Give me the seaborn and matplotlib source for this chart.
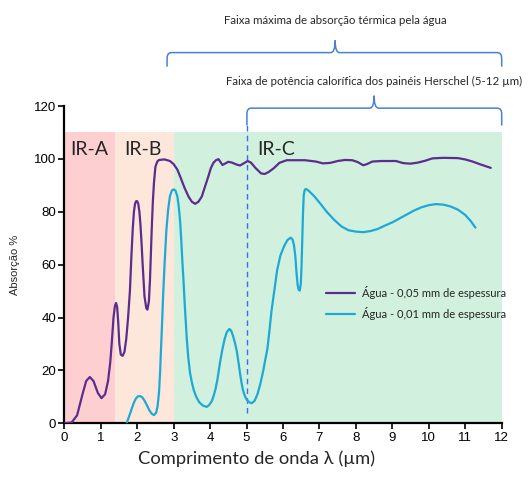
import numpy as np
import pandas as pd
import seaborn as sns
import matplotlib.pyplot as plt
from matplotlib.path import Path
from matplotlib.patches import PathPatch

# Absorção da água - espessura 0,05 mm
x_005 = [0.0, 0.2, 0.35, 0.5, 0.6, 0.7, 0.8, 0.92, 1.02, 1.12, 1.2, 1.26, 1.3, 1.35, 1.39,
         1.42, 1.45, 1.48, 1.51, 1.55, 1.6, 1.65, 1.7, 1.75, 1.8, 1.84, 1.88, 1.91, 1.94,
         1.97, 2.0, 2.03, 2.06, 2.09, 2.12, 2.15, 2.2, 2.25, 2.28, 2.32, 2.35, 2.37, 2.4,
         2.43, 2.46, 2.5, 2.55, 2.6, 2.75, 2.9, 3.0, 3.1, 3.18, 3.3, 3.41, 3.5, 3.59,
         3.68, 3.77, 3.86, 3.95, 4.02, 4.09, 4.16, 4.23, 4.3, 4.34, 4.42, 4.5, 4.6, 4.72,
         4.82, 4.92, 5.03, 5.12, 5.25, 5.4, 5.5, 5.6, 5.75, 5.9, 6.1, 6.3, 6.6, 6.9, 7.1,
         7.3, 7.5, 7.7, 7.9, 8.05, 8.2, 8.3, 8.45, 8.7, 9.1, 9.3, 9.5, 9.7, 9.9, 10.1,
         10.4, 10.8, 11.0, 11.2, 11.4, 11.7]
y_005 = [0, 0.3, 3, 11, 16, 17.5, 16, 11.5, 9.5, 11, 16, 23, 30, 40, 44.5,
         45.5, 44, 38, 30, 26, 25.5, 27, 32, 40, 50, 63, 74, 80, 83,
         84, 84, 83, 80, 75, 68, 60, 48, 43.5, 43, 46, 54, 62, 74,
         84, 91, 97, 99, 99.6, 99.8, 99.2, 98, 96, 93.3, 89, 85.7, 83.8, 83,
         83.8, 85.7, 89.5, 93.3, 96.5, 98.5, 99.5, 99.9, 98.5, 97.7, 98.3, 98.9, 98.6, 97.9,
         97.5, 98.3, 99.2, 98.6, 96.5, 94.5, 94.3, 95, 96.5, 98.5, 99.5, 99.5, 99.5, 99, 98.3,
         98.5, 99.2, 99.6, 99.5, 98.8, 97.6, 98, 99, 99.2, 99.2, 98.4, 98.2, 98.6, 99.3, 100.2,
         100.4, 100.3, 99.8, 99.0, 98, 96.6]

# Absorção da água - espessura 0,01 mm
x_001 = [1.71, 1.8, 1.9, 1.96, 2.02, 2.08, 2.14, 2.2, 2.26, 2.33, 2.4, 2.46, 2.52, 2.56,
         2.6, 2.63, 2.65, 2.68, 2.71, 2.75, 2.8, 2.85, 2.9, 2.95, 3.0, 3.05, 3.1, 3.14,
         3.18, 3.21, 3.24, 3.27, 3.3, 3.33, 3.36, 3.4, 3.45, 3.5, 3.55, 3.62, 3.7, 3.8,
         3.91, 3.98, 4.05, 4.1, 4.15, 4.2, 4.27, 4.33, 4.4, 4.46, 4.53, 4.58, 4.63, 4.68,
         4.73, 4.78, 4.82, 4.86, 4.9, 4.95, 5.0, 5.07, 5.14, 5.22, 5.3, 5.38, 5.46, 5.52,
         5.57, 5.62, 5.68, 5.75, 5.84, 5.93, 6.03, 6.12, 6.21, 6.26, 6.3, 6.34, 6.37, 6.4,
         6.43, 6.46, 6.49, 6.51, 6.53, 6.55, 6.57, 6.6, 6.64, 6.7, 6.85, 7.0, 7.2, 7.4,
         7.6, 7.8, 8.0, 8.2, 8.4, 8.6, 8.8, 9.0, 9.2, 9.4, 9.6, 9.8, 10.0, 10.2, 10.4,
         10.6, 10.8, 11.0, 11.15, 11.28]
y_001 = [0, 3.5, 7.5, 9.3, 10.2, 10.3, 9.8, 8.6, 7, 5, 3.6, 3.1, 4, 6.5,
         12, 20, 27, 37, 48, 60, 73, 81, 86, 88, 88.5, 88, 86, 82,
         76, 69, 61, 54, 46, 39, 32, 25, 19, 15.5, 12.6, 10, 8, 6.7,
         6.2, 7, 8.5, 10.5, 13, 16.5, 22.8, 27.5, 32, 34.5, 35.7, 35, 33, 30.5,
         27.5, 23, 19, 15.5, 12.6, 10.5, 9, 8, 7.6, 8.5, 11, 15, 20, 24.5,
         28, 34, 42, 49, 58, 63.5, 67, 69.3, 70.2, 69.6, 67.5, 63, 57, 52.5,
         50.5, 50.2, 53, 60, 70, 80, 86.5, 88.4, 88.6, 88, 86, 83.5, 80, 77,
         74.5, 73, 72.5, 72.3, 72.7, 73.5, 74.8, 76, 77.5, 79, 80.5, 81.7, 82.5, 82.9, 82.7,
         82, 80.8, 78.8, 76.5, 74]

series_names = ["Água - 0,05 mm de espessura", "Água - 0,01 mm de espessura"]
series_colors = ["#5b2d8e", "#1ca9d8"]

bands = [(0, 1.4, "IR-A", "#fecfd0"), (1.4, 3.0, "IR-B", "#fde7da"), (3.0, 12.05, "IR-C", "#d1f0dd")]

df = pd.concat([
    pd.DataFrame({"x": x_005, "y": y_005, "serie": series_names[0]}),
    pd.DataFrame({"x": x_001, "y": y_001, "serie": series_names[1]}),
])

sns.set_style("ticks")
plt.rcParams["font.family"] = ["Liberation Sans", "DejaVu Sans"]
label_font = ["Lato", "DejaVu Sans"]

fig = plt.figure(figsize=(5.31, 4.87), dpi=100)
ax = fig.add_axes([0.1211, 0.1308, 0.8237, 0.6515])

# Faixas IR
for x0, x1, name, col in bands:
    ax.axvspan(x0, x1, ymin=0, ymax=110 / 120, color=col, lw=0, zorder=0)
ax.text(0.68, 103.5, "IR-A", fontsize=14, family=label_font, ha="center", va="center")
ax.text(2.16, 103.5, "IR-B", fontsize=14, family=label_font, ha="center", va="center")
ax.text(5.8, 103.5, "IR-C", fontsize=14, family=label_font, ha="center", va="center")

sns.lineplot(data=df, x="x", y="y", hue="serie", palette=series_colors, sort=False,
             estimator=None, lw=1.6, ax=ax, zorder=3)

ax.plot([5, 5], [4, 113], ls=(0, (4, 3)), color="#3a6ff0", lw=1.0, zorder=2)


def brace(ax, x0, x1, xm, yb, ye, yp, rx=0.12, ry=2.2):
    verts = [(x0, ye), (x0, yb - ry), (x0, yb), (x0 + rx, yb),
             (xm - rx, yb), (xm, yb), (xm, yp),
             (xm, yb), (xm + rx, yb), (x1 - rx, yb),
             (x1, yb), (x1, yb - ry), (x1, ye)]
    codes = [Path.MOVETO, Path.LINETO, Path.CURVE3, Path.CURVE3,
             Path.LINETO, Path.CURVE3, Path.CURVE3,
             Path.CURVE3, Path.CURVE3, Path.LINETO,
             Path.CURVE3, Path.CURVE3, Path.LINETO]
    ax.add_patch(PathPatch(Path(verts, codes), fill=False, ec="#4a80d2", lw=1.1, clip_on=False))


brace(ax, 2.82, 12.0, 7.43, 140.2, 134.9, 144.8)
brace(ax, 5.01, 12.0, 8.5, 119.2, 112.6, 123.9)
ax.text(7.43, 152.3, "Faixa máxima de absorção térmica pela água", fontsize=8.3,
        family=label_font, ha="center", va="center", clip_on=False)
ax.text(8.5, 129.2, "Faixa de potência calorífica dos painéis Herschel (5-12 µm)", fontsize=8.3,
        family=label_font, ha="center", va="center", clip_on=False)

ax.set_xlim(0, 12)
ax.set_ylim(0, 120)
ax.set_xticks(range(0, 13))
ax.set_yticks(range(0, 121, 20))
ax.tick_params(axis="both", labelsize=9.5, length=4, width=1.2, colors="black", pad=2)
for s in ["left", "bottom"]:
    ax.spines[s].set_linewidth(1.6)
    ax.spines[s].set_color("black")
sns.despine(ax=ax)

ax.set_xlabel("Comprimento de onda λ (µm)", fontsize=13.2, family=label_font)
ax.xaxis.set_label_coords(0.439, -0.085)
ax.set_ylabel("Absorção %", fontsize=8, labelpad=10)

leg = ax.legend(loc="center left", bbox_to_anchor=(0.575, 0.38), frameon=False,
                handlelength=2.6, labelspacing=0.75, handletextpad=0.7,
                prop={"family": label_font, "size": 8.0})
for line in leg.get_lines():
    line.set_linewidth(1.6)

fig.savefig("out.png", dpi=100)
